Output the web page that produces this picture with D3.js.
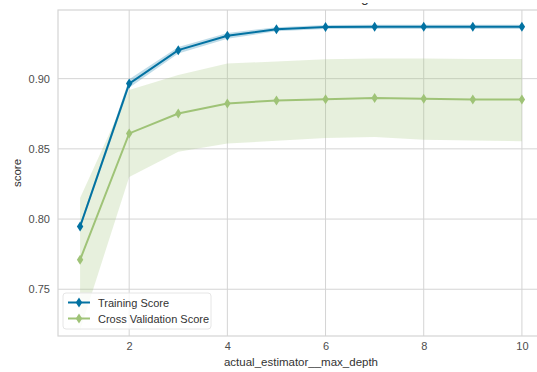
<!DOCTYPE html>
<html>
<head>
<meta charset="utf-8">
<script src="https://cdn.jsdelivr.net/npm/d3@7"></script>
<style>
  body { margin: 0; background: #fff; }
  svg { display: block; font-family: "Liberation Sans", Arial, sans-serif; }
</style>
</head>
<body>
<svg id="chart"></svg>
<script>
// values
var depths = [1, 2, 3, 4, 5, 6, 7, 8, 9, 10]
var trainMean = [0.7947, 0.8965, 0.9203, 0.9305, 0.9352, 0.9368, 0.9369, 0.9369, 0.9369, 0.9369]
var trainLow  = [0.7927, 0.8935, 0.9180, 0.9285, 0.9337, 0.9353, 0.9354, 0.9354, 0.9354, 0.9354]
var trainHigh = [0.7967, 0.8995, 0.9226, 0.9325, 0.9367, 0.9383, 0.9384, 0.9384, 0.9384, 0.9384]
var cvMean = [0.7710, 0.8610, 0.8752, 0.8823, 0.8845, 0.8853, 0.8863, 0.8856, 0.8852, 0.8852]
var cvLow  = [0.7210, 0.8300, 0.8480, 0.8538, 0.8558, 0.8578, 0.8585, 0.8565, 0.8560, 0.8555]
var cvHigh = [0.8150, 0.8920, 0.9026, 0.9108, 0.9122, 0.9138, 0.9143, 0.9143, 0.9140, 0.9140]
var xTicks = [2, 4, 6, 8, 10]
var yTicks = [0.75, 0.80, 0.85, 0.90]
var seriesNames = ["Training Score", "Cross Validation Score"]
var seriesColors = ["#0272a2", "#9fc377"]

var dimensions = {
  width: 537,
  height: 372,
  margin: { top: 10, bottom: 36, right: -7, left: 58 }
}
dimensions.boundedWidth = dimensions.width - dimensions.margin.left - dimensions.margin.right
dimensions.boundedHeight = dimensions.height - dimensions.margin.top - dimensions.margin.bottom

var svg = d3.select("#chart")
  .attr("width", dimensions.width)
  .attr("height", dimensions.height)

var bounds = svg.append("g")
  .attr("transform", "translate(" + dimensions.margin.left + "," + dimensions.margin.top + ")")

var xScale = d3.scaleLinear()
  .domain([0.55, 10.45])
  .range([0, dimensions.boundedWidth])

var yScale = d3.scaleLinear()
  .domain([0.7167, 0.9489])
  .range([dimensions.boundedHeight, 0])

// grid
bounds.append("g")
  .selectAll("line")
  .data(xTicks)
  .join("line")
  .attr("x1", d => xScale(d)).attr("x2", d => xScale(d))
  .attr("y1", 0).attr("y2", dimensions.boundedHeight)
  .attr("stroke", "#d4d4d4").attr("stroke-width", 1)

bounds.append("g")
  .selectAll("line")
  .data(yTicks)
  .join("line")
  .attr("x1", 0).attr("x2", dimensions.boundedWidth)
  .attr("y1", d => yScale(d)).attr("y2", d => yScale(d))
  .attr("stroke", "#d4d4d4").attr("stroke-width", 1)

// spines
bounds.append("rect")
  .attr("x", 0).attr("y", 0)
  .attr("width", dimensions.boundedWidth).attr("height", dimensions.boundedHeight)
  .attr("fill", "none").attr("stroke", "#d4d4d4").attr("stroke-width", 1.2)

// axes (no tick marks, just labels)
var xAxis = bounds.append("g")
  .attr("transform", "translate(0," + dimensions.boundedHeight + ")")
  .call(d3.axisBottom(xScale).tickValues(xTicks).tickSize(0).tickPadding(6).tickFormat(d3.format("d")))
xAxis.select(".domain").remove()

var yAxis = bounds.append("g")
  .call(d3.axisLeft(yScale).tickValues(yTicks).tickSize(0).tickPadding(8).tickFormat(d3.format(".2f")))
yAxis.select(".domain").remove()

svg.selectAll(".tick text")
  .attr("font-family", "Liberation Sans, Arial, sans-serif")
  .attr("font-size", 11)
  .attr("fill", "#4d4d4d")

// bands
var bandArea = d3.area()
  .x(d => xScale(d.x))
  .y0(d => yScale(d.lo))
  .y1(d => yScale(d.hi))

var trainBand = depths.map((d, i) => ({ x: d, lo: trainLow[i], hi: trainHigh[i] }))
var cvBand = depths.map((d, i) => ({ x: d, lo: cvLow[i], hi: cvHigh[i] }))

bounds.append("path").datum(trainBand)
  .attr("d", bandArea).attr("fill", seriesColors[0]).attr("fill-opacity", 0.25)
bounds.append("path").datum(cvBand)
  .attr("d", bandArea).attr("fill", seriesColors[1]).attr("fill-opacity", 0.25)

// lines
var line = d3.line()
  .x(d => xScale(d.x))
  .y(d => yScale(d.y))

var series = [
  depths.map((d, i) => ({ x: d, y: trainMean[i] })),
  depths.map((d, i) => ({ x: d, y: cvMean[i] }))
]

var diamond = "M0,-5 L3.2,0 L0,5 L-3.2,0 Z"

series.forEach(function (s, k) {
  bounds.append("path").datum(s)
    .attr("d", line).attr("fill", "none")
    .attr("stroke", seriesColors[k]).attr("stroke-width", 2)
  bounds.append("g").selectAll("path")
    .data(s)
    .join("path")
    .attr("d", diamond)
    .attr("transform", d => "translate(" + xScale(d.x) + "," + yScale(d.y) + ")")
    .attr("fill", seriesColors[k])
})

// legend
var legend = bounds.append("g")
  .attr("transform", "translate(5," + (dimensions.boundedHeight - 43) + ")")
legend.append("rect")
  .attr("width", 148).attr("height", 36).attr("rx", 3)
  .attr("fill", "#ffffff").attr("fill-opacity", 0.8)
  .attr("stroke", "#e6e6e6").attr("stroke-width", 1)
seriesNames.forEach(function (name, k) {
  var yy = 9.5 + k * 16
  legend.append("line")
    .attr("x1", 5).attr("x2", 27).attr("y1", yy).attr("y2", yy)
    .attr("stroke", seriesColors[k]).attr("stroke-width", 2)
  legend.append("path").attr("d", diamond)
    .attr("transform", "translate(16," + yy + ")")
    .attr("fill", seriesColors[k])
  legend.append("text")
    .attr("x", 35).attr("y", yy + 4)
    .attr("font-size", 11).attr("fill", "#333")
    .text(name)
})

// axis labels
svg.append("text")
  .attr("x", dimensions.margin.left + xScale(5.5))
  .attr("y", 366)
  .attr("text-anchor", "middle")
  .attr("font-size", 11.5).attr("fill", "#333")
  .text("actual_estimator__max_depth")

svg.append("text")
  .attr("transform", "translate(21," + (dimensions.margin.top + dimensions.boundedHeight / 2) + ") rotate(-90)")
  .attr("text-anchor", "middle")
  .attr("font-size", 11.5).attr("fill", "#333")
  .text("score")

// title sits above the crop: only the descender of its "g" shows
svg.append("clipPath").attr("id", "titleClip")
  .append("rect").attr("x", 0).attr("y", 3).attr("width", dimensions.width).attr("height", 6)
var title = svg.append("text")
  .attr("y", 2)
  .attr("font-size", 14).attr("fill", "#333")
  .attr("clip-path", "url(#titleClip)")
  .text("Validation Curve for GradientBoostingClassifier")
var gIndex = title.text().lastIndexOf("g")
var gPos = title.node().getStartPositionOfChar(gIndex).x
var gWidth = title.node().getSubStringLength(gIndex, 1)
title.attr("x", 365 - gPos - gWidth / 2)
</script>
</body>
</html>
